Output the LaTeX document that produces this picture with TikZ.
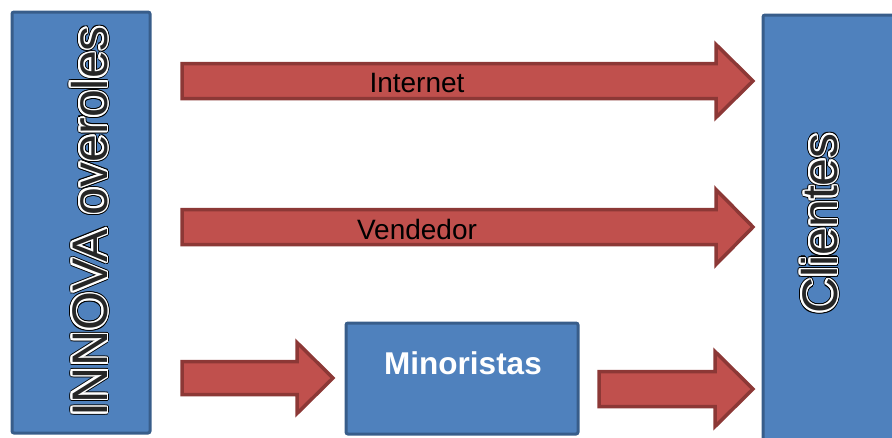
\documentclass[tikz,border=0pt]{standalone}
\usepackage{fontspec}
\setmainfont{Liberation Sans}
\usetikzlibrary{calc}

\definecolor{boxfill}{HTML}{4F81BD}
\definecolor{boxline}{HTML}{385D8A}
\definecolor{arrfill}{HTML}{C0504D}
\definecolor{arrline}{HTML}{8C3836}
\definecolor{txtfill}{HTML}{262626}

\tikzset{
  box/.style={draw=boxline, fill=boxfill, line width=3pt, rounded corners=2pt, inner sep=0pt},
  redarrow/.style={draw=arrline, fill=arrfill, line width=3.5pt, line join=miter},
  armlabel/.style={font=\fontsize{28}{28}\selectfont, text=black, inner sep=0pt},
  bigtext/.style={font=\fontsize{50}{50}\selectfont, rotate=90, anchor=base, inner sep=0pt},
}

% block arrow from #1 to #2: shaft half-width #3, head half-width #4, head length #5
\newcommand\blockarrow[5]{%
  \draw[redarrow] let \p1=(#1), \p2=(#2) in
    (\x1,{\y1+#3pt}) -- ({\x2-#5pt},{\y1+#3pt}) -- ({\x2-#5pt},{\y1+#4pt})
    -- (\x2,\y1) -- ({\x2-#5pt},{\y1-#4pt}) -- ({\x2-#5pt},{\y1-#3pt})
    -- (\x1,{\y1-#3pt}) -- cycle;}

% vertical title with dark edge, white rim and dark fill
\newcommand\halolabel[3]{%
  \foreach \a in {0,22.5,...,337.5}{\node[bigtext, text=black] at ($(#2)+(\a:2.7)$) {#3};}
  \foreach \a in {0,22.5,...,337.5}{\node[bigtext, text=white] at ($(#2)+(\a:1.6)$) {#3};}
  \node[bigtext, text=txtfill] (#1) at (#2) {#3};}

\begin{document}
\begin{tikzpicture}[x=1pt,y=-1pt]
\useasboundingbox (0,0) rectangle (892,437);

% boxes
\node[box, minimum width=138pt, minimum height=421pt] (innova) at (81,222.5) {};
\node[box, minimum width=150pt, minimum height=430pt] (clientes) at (838,230) {};
\node[box, minimum width=232pt, minimum height=111pt] (minor) at (462,378.5) {};
\node[font=\bfseries\fontsize{31.5}{31.5}\selectfont, text=white, inner sep=0pt] (minorlabel) at (463,363) {Minoristas};

\halolabel{innovatext}{107,221.5}{INNOVA overoles}
\halolabel{clientestext}{837,223.5}{Clientes}

% arrow end points
\coordinate (netS) at (182,81);   \coordinate (netE) at (753,81);
\coordinate (vendS) at (182,227); \coordinate (vendE) at (753,227);
\coordinate (minS) at (182,378);  \coordinate (minE) at (333,378);
\coordinate (cliS) at (599,389);  \coordinate (cliE) at (753,389);

\blockarrow{netS}{netE}{17.5}{36.5}{37}
\blockarrow{vendS}{vendE}{17.5}{37.5}{37}
\blockarrow{minS}{minE}{16.5}{35.5}{36}
\blockarrow{cliS}{cliE}{17.5}{37.5}{38}

\node[armlabel] (netlabel) at (417,83) {Internet};
\node[armlabel] (vendlabel) at (417,229) {Vendedor};
\end{tikzpicture}
\end{document}
